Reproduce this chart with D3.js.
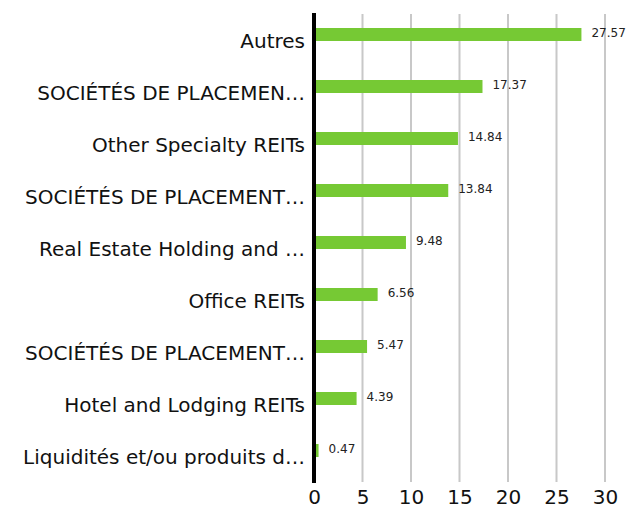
<!DOCTYPE html>
<html>
<head>
<meta charset="utf-8">
<script src="https://cdn.jsdelivr.net/npm/d3@7"></script>
<style>
  body { margin: 0; background: #fff; }
  svg { display: block; }
</style>
</head>
<body>
<div id="chart"></div>
<script>
const categories = [
  "Autres",
  "SOCIÉTÉS DE PLACEMEN…",
  "Other Specialty REITs",
  "SOCIÉTÉS DE PLACEMENT…",
  "Real Estate Holding and …",
  "Office REITs",
  "SOCIÉTÉS DE PLACEMENT…",
  "Hotel and Lodging REITs",
  "Liquidités et/ou produits d…"
];
const values = [27.57, 17.37, 14.84, 13.84, 9.48, 6.56, 5.47, 4.39, 0.47];
const xTicks = [0, 5, 10, 15, 20, 25, 30];

const width = 628, height = 508;
const margin = {top: 14, right: 23, bottom: 26, left: 314};
const font = "'DejaVu Sans', sans-serif";

const svg = d3.select('#chart').append('svg')
  .attr('width', width)
  .attr('height', height);

const x = d3.scaleLinear()
  .domain([0, 30])
  .range([margin.left, width - margin.right]);

// band per category; index used as key since some labels repeat
const y = d3.scaleBand()
  .domain(d3.range(categories.length))
  .range([margin.top, height - margin.bottom]);

// gridlines
svg.append('g')
  .selectAll('line')
  .data(xTicks.filter(d => d > 0))
  .join('line')
    .attr('x1', d => x(d))
    .attr('x2', d => x(d))
    .attr('y1', margin.top)
    .attr('y2', height - margin.bottom)
    .attr('stroke', '#c8c8c8')
    .attr('stroke-width', 2);

// bars
const barH = 13;
svg.append('g')
  .selectAll('rect')
  .data(values)
  .join('rect')
    .attr('x', x(0))
    .attr('y', (d, i) => y(i) + 14)
    .attr('width', d => x(d) - x(0))
    .attr('height', barH)
    .attr('fill', '#76c934');

// value labels
svg.append('g')
  .selectAll('text')
  .data(values)
  .join('text')
    .attr('x', d => x(d) + 10)
    .attr('y', (d, i) => y(i) + 14 + barH / 2 - 2)
    .attr('dy', '0.35em')
    .attr('font-family', font)
    .attr('font-size', 12)
    .attr('fill', '#222')
    .text(d => d3.format('.2f')(d));

// category labels
const yAxis = svg.append('g')
  .attr('transform', `translate(${margin.left},0)`)
  .call(d3.axisLeft(y).tickSize(0).tickPadding(9).tickFormat(i => categories[i]));
yAxis.select('.domain').remove();
yAxis.selectAll('.tick text')
  .attr('font-family', font)
  .attr('font-size', 20)
  .attr('fill', '#111')
  .attr('dy', '0.41em');

// x axis labels
const xAxis = svg.append('g')
  .attr('transform', `translate(0,${height - margin.bottom})`)
  .call(d3.axisBottom(x).tickValues(xTicks).tickSize(0).tickPadding(8).tickFormat(d3.format('d')));
xAxis.select('.domain').remove();
xAxis.selectAll('.tick text')
  .attr('font-family', font)
  .attr('font-size', 20)
  .attr('fill', '#111');

// zero line
svg.append('line')
  .attr('x1', x(0))
  .attr('x2', x(0))
  .attr('y1', margin.top - 1)
  .attr('y2', height - margin.bottom + 1)
  .attr('stroke', '#000')
  .attr('stroke-width', 4);
</script>
</body>
</html>
